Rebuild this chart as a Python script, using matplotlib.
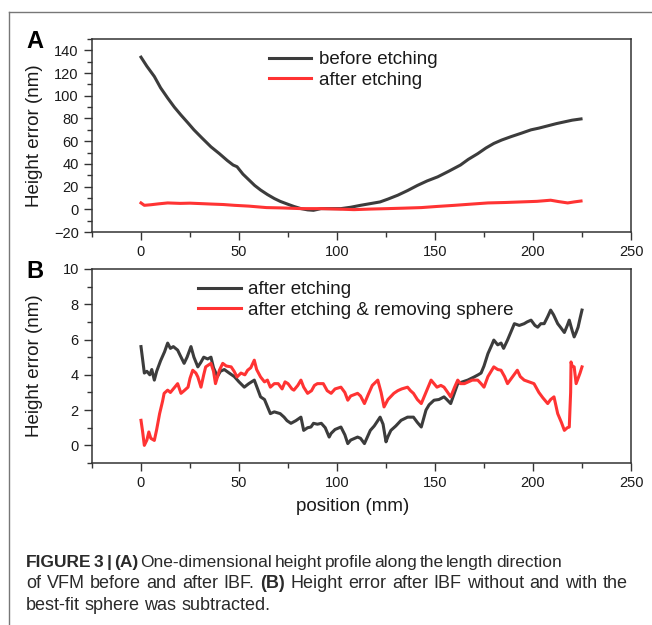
import numpy as np
import matplotlib
matplotlib.use("Agg")
import matplotlib.pyplot as plt
from matplotlib.lines import Line2D
from matplotlib.ticker import MultipleLocator

plt.rcParams['font.family'] = ['Liberation Sans', 'DejaVu Sans']

# panel A: height profile before / after etching
a_before_x = [0, 3, 6.8, 10, 13.6, 17, 20.4, 24, 27, 31, 35.7, 40, 44, 47, 49, 52, 54.4,
              58, 61, 64.5, 68, 71, 75, 78, 81.6, 85, 88, 91.8, 95, 102, 107, 112, 117,
              122, 126, 131, 136, 141, 146, 151.4, 157, 163, 167, 171.8, 176, 180, 184,
              188.8, 194, 199, 203, 207.5, 212, 216, 220, 224.5]
a_before_y = [134, 126, 117, 107, 98, 90, 83, 76, 70, 63, 55, 49, 43, 39, 37.5, 31, 27,
              21, 17, 13, 9.5, 7, 4.4, 2.5, 0.6, -0.5, -0.9, 0.6, 0.6, 0.6, 1.8, 3.5, 5,
              6.5, 9, 12.4, 16.5, 21, 25, 28.6, 33.5, 39, 44, 49, 54, 58, 61,
              64, 67, 70, 71.5, 73.5, 75.5, 77, 78.5, 79.6]
a_after_x = [0, 1.7, 5, 9, 13.6, 20, 25, 30.6, 36, 42, 47.6, 55, 64, 72, 81.6, 92, 100,
             108.7, 117, 126, 134, 143, 151, 160, 168, 177, 186, 194, 202, 209, 213,
             217.7, 221, 224.5]
a_after_y = [5.6, 3.5, 4.0, 4.8, 5.6, 5.2, 5.4, 5.0, 4.6, 4.2, 3.5, 2.8, 1.5, 1.2, 0.6,
             0.6, 0.2, -0.3, 0.2, 0.6, 1.0, 1.5, 2.5, 3.5, 4.5, 5.6, 6.0, 6.5, 7.0, 8.0,
             6.8, 5.6, 6.5, 7.3]

# panel B: after etching, with and without the best-fit sphere
b_etch_x = [0, 0.8, 1.7, 3, 4.5, 5.5, 6.8, 8, 10, 12, 13.6, 15, 16.5, 18.7, 20, 22, 23.5,
            25.5, 27, 29, 30.5, 32, 34, 35.7, 37, 39, 40.5, 42.5, 45, 47.6, 50, 52.7, 55,
            57.8, 59.5, 61, 63, 64.5, 66, 68, 71, 73, 74.5, 76.5, 79, 81.6, 83, 85, 86.7,
            88, 90, 92, 94, 96, 97, 99, 102, 104, 105.5, 107, 110.5, 112, 114, 116, 117,
            119, 122, 123.5, 125, 126, 127.5, 130, 132.7, 136, 139, 141, 143, 145.4, 147,
            149.5, 152, 154.6, 156, 158, 160, 161.6, 164, 166.7, 170, 172, 173.5, 175,
            177, 179, 180, 182, 183.7, 185, 187, 189, 190.5, 193, 195.5, 197, 199, 201,
            202.4, 204, 205.7, 207.5, 209, 210.5, 212.6, 214, 216, 217.5, 218.5, 220,
            221, 222, 223, 224, 225]
b_etch_y = [5.6, 4.9, 4.1, 4.2, 4.0, 4.3, 3.7, 4.2, 4.8, 5.3, 5.8, 5.5, 5.6, 5.4, 5.1,
            4.65, 5.0, 5.6, 5.0, 4.45, 4.7, 5.0, 4.9, 5.0, 4.4, 3.9, 4.2, 4.3, 4.1, 3.9,
            3.6, 3.3, 3.5, 3.7, 3.2, 2.75, 2.6, 2.2, 1.8, 1.9, 1.8, 1.6, 1.4, 1.25, 1.4,
            1.6, 0.85, 1.0, 1.04, 1.25, 1.2, 1.25, 1.0, 0.47, 0.68, 0.9, 1.04, 0.6, 0.1,
            0.3, 0.47, 0.4, 0.1, 0.6, 0.85, 1.1, 1.6, 1.2, 0.2, 0.5, 0.85, 1.1, 1.42, 1.6,
            1.6, 1.3, 1.04, 2.0, 2.3, 2.56, 2.6, 2.75, 2.6, 2.37, 3.0, 3.5, 3.6, 3.7,
            3.88, 4.0, 4.1, 4.5, 5.2, 5.7, 5.97, 5.7, 5.8, 5.5, 5.97, 6.5, 6.9, 6.8, 6.9,
            7.0, 7.1, 6.8, 6.7, 6.9, 6.9, 7.3, 7.67, 7.4, 6.9, 6.7, 6.4, 6.8, 7.1, 6.5,
            6.15, 6.4, 6.7, 7.2, 7.67]
b_sphere_x = [0, 0.8, 1.7, 3, 4, 5, 6.8, 8, 9.5, 11, 11.8, 13.6, 15, 16.5, 18.7, 20.4, 22,
              24, 25, 26.4, 28, 29, 30.6, 32, 33, 35.7, 37, 38, 40, 41.7, 43.5, 46, 47.5,
              49, 51, 53, 54.4, 56, 57.8, 59, 61, 63, 64.5, 66, 68, 70, 72, 73.5, 75, 77,
              78, 80, 81.6, 83, 85, 87, 88.5, 90, 93, 95, 97, 99, 102, 104, 105.5, 107,
              110.5, 112, 114, 116, 118, 120.8, 122.5, 124, 126, 129, 131, 133, 136,
              137.5, 139, 141, 143, 145, 148, 149.5, 151, 153, 154.6, 156.5, 158, 160,
              161.6, 163, 165, 167, 169, 171.8, 173.5, 175, 177, 180, 182, 183.7, 185.5,
              187, 189, 192, 193.5, 195.5, 198, 200.5, 203, 205, 207.5, 209, 210.7, 212.6,
              214.5, 216, 217.5, 218.5, 219.2, 219.4, 220, 221, 222, 223, 224, 225]
b_sphere_y = [1.42, 0.8, 0.0, 0.3, 0.76, 0.4, 0.28, 0.9, 1.8, 2.5, 2.95, 3.13, 3.0, 3.2,
              3.5, 2.95, 3.1, 3.3, 3.8, 4.26, 4.1, 3.88, 3.3, 4.0, 4.45, 4.65, 4.2, 3.5,
              4.26, 4.65, 4.5, 4.45, 4.2, 3.88, 4.1, 4.0, 4.26, 4.4, 4.83, 4.3, 3.88, 3.6,
              3.7, 3.3, 3.5, 3.5, 3.2, 3.6, 3.5, 3.2, 3.13, 3.4, 3.7, 3.3, 2.95, 3.1, 3.4,
              3.5, 3.5, 3.1, 2.95, 3.2, 3.3, 3.0, 2.56, 2.8, 2.95, 2.8, 2.37, 2.9, 3.4,
              3.7, 3.0, 2.18, 2.6, 2.95, 3.1, 3.2, 3.3, 3.1, 2.95, 2.6, 2.37, 2.9, 3.7,
              3.5, 3.3, 3.4, 3.3, 3.0, 2.75, 3.3, 3.7, 3.5, 3.5, 3.6, 3.7, 3.7, 3.5, 3.3,
              3.9, 4.45, 4.3, 4.26, 3.9, 3.5, 3.8, 4.26, 3.9, 3.7, 3.6, 3.5, 3.0, 2.7,
              2.37, 2.6, 2.75, 1.8, 1.3, 0.85, 1.0, 1.04, 3.0, 4.73, 4.5, 4.45, 3.5, 3.8,
              4.1, 4.45]

# caption lines: (text, weight) runs, font size, and right edge to justify to (None = ragged)
caption_lines = [
    ([("FIGURE 3 | (A)", "bold"), ("One-dimensional height profile along the length direction", "normal")],
     12.5, 562),
    ([("of VFM before and after IBF.", "normal"), ("(B)", "bold"),
      ("Height error after IBF without and with the", "normal")], 13, 628),
    ([("best-fit sphere was subtracted.", "normal")], 13, None),
]

DARK = '#3c3c3c'
RED = '#ff3333'
TXT = '#1a1a1a'

fig = plt.figure(figsize=(6.52, 6.25), dpi=100)

# page frame lines (top and left)
fig.add_artist(Line2D([9 / 652, 1], [1 - 12 / 625] * 2, color='#777777', lw=1))
fig.add_artist(Line2D([9 / 652] * 2, [0, 1 - 12 / 625], color='#777777', lw=1))

axA = fig.add_axes([0.1411, 0.6288, 0.8267, 0.3088])
axB = fig.add_axes([0.1411, 0.2592, 0.8267, 0.3104])


def style(ax, ylim, ymaj, ymin):
    ax.set_xlim(-25, 250)
    ax.set_ylim(*ylim)
    ax.xaxis.set_major_locator(MultipleLocator(50))
    ax.xaxis.set_minor_locator(MultipleLocator(25))
    ax.yaxis.set_major_locator(MultipleLocator(ymaj))
    ax.yaxis.set_minor_locator(MultipleLocator(ymin))
    ax.tick_params(which='both', direction='out', top=False, right=False,
                   colors='#333333', labelcolor=TXT, labelsize=10.5, width=1)
    ax.tick_params(which='major', length=6)
    ax.tick_params(which='minor', length=3.5)
    for s in ax.spines.values():
        s.set_color('#333333')
        s.set_linewidth(1.1)
    ax.set_ylabel('Height error (nm)', fontsize=13.5, color=TXT)
    ax.yaxis.set_label_coords(-49 / 539, 0.5)


def legend(ax, x0):
    ax.legend(loc='upper left', bbox_to_anchor=(x0, 1.025), frameon=False, fontsize=13.5,
              handlelength=2.25, handletextpad=0.4, labelspacing=0.2, labelcolor=TXT)


style(axA, (-20, 150), 20, 10)
axA.set_yticks(np.arange(-20, 141, 20))
axA.set_xticks(np.arange(0, 251, 50))
axA.plot(a_before_x, a_before_y, color=DARK, lw=2.2, label='before etching')
axA.plot(a_after_x, a_after_y, color=RED, lw=2.2, label='after etching')
legend(axA, 0.297)

style(axB, (-1, 10), 2, 1)
axB.set_yticks(np.arange(0, 11, 2))
axB.set_xticks(np.arange(0, 251, 50))
axB.plot(b_etch_x, b_etch_y, color=DARK, lw=2.2, label='after etching')
axB.plot(b_sphere_x, b_sphere_y, color=RED, lw=2.2, label='after etching & removing sphere')
legend(axB, 0.166)
axB.set_xlabel('position (mm)', fontsize=13.5, color=TXT)
axB.xaxis.set_label_coords((353 - 92) / 539, -35 / 194)

fig.text(35 / 652, 1 - 41 / 625, 'A', fontsize=17, fontweight='bold', ha='center', va='center')
fig.text(35 / 652, 1 - 272 / 625, 'B', fontsize=17, fontweight='bold', ha='center', va='center')

# caption; words are laid out one by one so a line can be justified
renderer = fig.canvas.get_renderer()
cap_left = 26
for i, (runs, size, right) in enumerate(caption_lines):
    gap = 0.26 * size * 100 / 72
    y = 1 - (567 + i * 21.5) / 625
    words = [(w, weight) for txt, weight in runs for w in txt.split(' ')]
    texts = [fig.text(0, y, w, fontsize=size, fontweight=weight, color='#2a2a2a',
                      va='baseline', ha='left') for w, weight in words]
    widths = [t.get_window_extent(renderer).width for t in texts]
    if right is not None:
        gap = (right - cap_left - sum(widths)) / (len(words) - 1)
    x = cap_left
    for t, w in zip(texts, widths):
        t.set_x(x / 652)
        x += w + gap

fig.savefig('out.png', dpi=100)
